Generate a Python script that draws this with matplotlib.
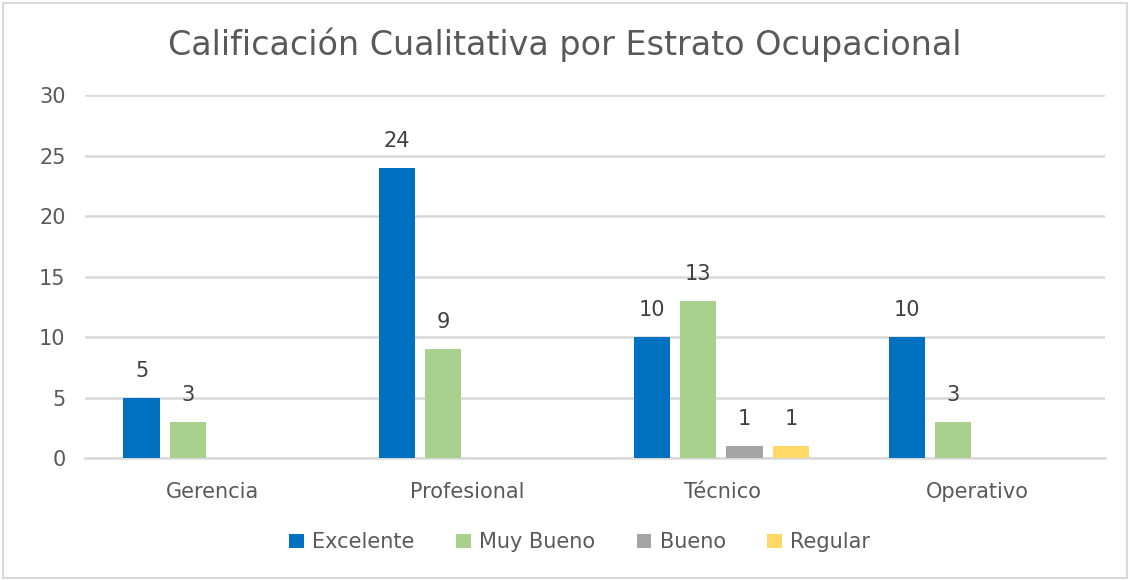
import matplotlib.pyplot as plt
import numpy as np

categories = ['Gerencia', 'Profesional', 'Técnico', 'Operativo']
series_names = ['Excelente', 'Muy Bueno', 'Bueno', 'Regular']
excelente = [5, 24, 10, 10]
muy_bueno = [3, 9, 13, 3]
bueno = [0, 0, 1, 0]
regular = [0, 0, 1, 0]
colors = ['#0070C0', '#A9D18E', '#A5A5A5', '#FFD966']

values = [excelente, muy_bueno, bueno, regular]

fig = plt.figure(figsize=(11.3, 5.8), dpi=100)
ax = fig.add_axes([0.0752, 0.2103, 0.9028, 0.6259])

x = np.arange(len(categories))
step = 0.182
width = 0.142
for i, (name, vals, c) in enumerate(zip(series_names, values, colors)):
    pos = x + (i - 1.5) * step - 0.005
    bars = ax.bar(pos, vals, width, color=c, label=name, zorder=3)
    for b, v in zip(bars, vals):
        if v > 0:
            ax.text(b.get_x() + b.get_width() / 2, v + 1.4, str(v),
                    ha='center', va='bottom', fontsize=15, color='#404040')

ax.set_xlim(-0.5, 3.5)
ax.set_ylim(0, 30)
ax.set_yticks(range(0, 31, 5))
ax.set_xticks(x)
ax.set_xticklabels(categories)
ax.grid(axis='y', color='#D9D9D9', linewidth=1.8, zorder=0)
ax.axhline(0, color='#D9D9D9', linewidth=1.8, zorder=1, clip_on=False)
for s in ax.spines.values():
    s.set_visible(False)
ax.tick_params(axis='both', length=0, labelsize=15, colors='#595959')
ax.tick_params(axis='x', pad=17)
ax.tick_params(axis='y', pad=14)

fig.suptitle('Calificación Cualitativa por Estrato Ocupacional', y=0.952,
             fontsize=24, color='#595959')

leg = fig.legend(loc='center', bbox_to_anchor=(0.513, 0.065), ncol=4, frameon=False,
                 fontsize=15, handlelength=0.7, handleheight=0.7, handletextpad=0.4,
                 columnspacing=2.0, labelcolor='#595959')

border = plt.Rectangle((0.003, 0.003), 0.994, 0.992, transform=fig.transFigure,
                       fill=False, edgecolor='#D9D9D9', linewidth=1.5)
fig.add_artist(border)

fig.savefig('out.png', dpi=100)
